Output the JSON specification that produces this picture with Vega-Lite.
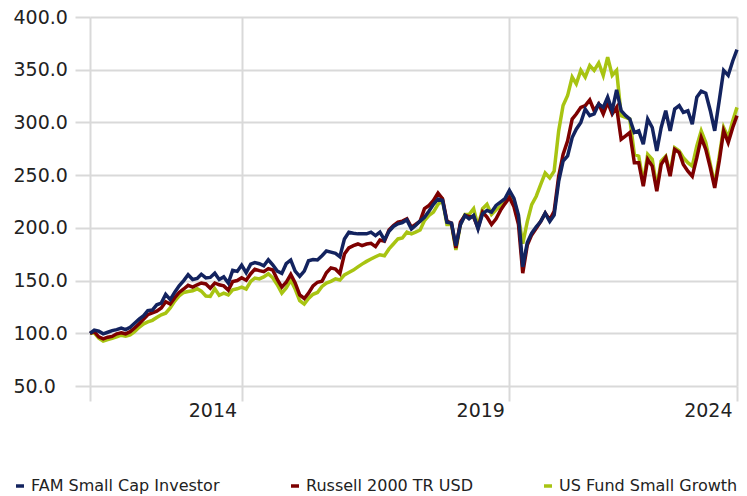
{
  "$schema": "https://vega.github.io/schema/vega-lite/v6.json",
  "width": 647,
  "height": 369,
  "autosize": "none",
  "padding": {"left": 90, "top": 17, "right": 10, "bottom": 110},
  "background": "white",
  "config": {
    "font": "DejaVu Sans",
    "view": {"stroke": null}
  },
  "data": {
    "values": [
      {"date":"2012-02-01","series":"US Fund Small Growth","value":100},
      {"date":"2012-03-01","series":"US Fund Small Growth","value":100.5},
      {"date":"2012-04-01","series":"US Fund Small Growth","value":95.3},
      {"date":"2012-05-01","series":"US Fund Small Growth","value":92.7},
      {"date":"2012-06-01","series":"US Fund Small Growth","value":94},
      {"date":"2012-07-01","series":"US Fund Small Growth","value":95.3},
      {"date":"2012-08-01","series":"US Fund Small Growth","value":96.6},
      {"date":"2012-09-01","series":"US Fund Small Growth","value":98.2},
      {"date":"2012-10-01","series":"US Fund Small Growth","value":97.2},
      {"date":"2012-11-01","series":"US Fund Small Growth","value":98.5},
      {"date":"2012-12-01","series":"US Fund Small Growth","value":101.5},
      {"date":"2013-01-01","series":"US Fund Small Growth","value":105.7},
      {"date":"2013-02-01","series":"US Fund Small Growth","value":109},
      {"date":"2013-03-01","series":"US Fund Small Growth","value":110.8},
      {"date":"2013-04-01","series":"US Fund Small Growth","value":112.3},
      {"date":"2013-05-01","series":"US Fund Small Growth","value":115},
      {"date":"2013-06-01","series":"US Fund Small Growth","value":117.6},
      {"date":"2013-07-01","series":"US Fund Small Growth","value":119},
      {"date":"2013-08-01","series":"US Fund Small Growth","value":124},
      {"date":"2013-09-01","series":"US Fund Small Growth","value":130.6},
      {"date":"2013-10-01","series":"US Fund Small Growth","value":135.4},
      {"date":"2013-11-01","series":"US Fund Small Growth","value":138.7},
      {"date":"2013-12-01","series":"US Fund Small Growth","value":139.6},
      {"date":"2014-01-01","series":"US Fund Small Growth","value":140.3},
      {"date":"2014-02-01","series":"US Fund Small Growth","value":142.2},
      {"date":"2014-03-01","series":"US Fund Small Growth","value":140},
      {"date":"2014-04-01","series":"US Fund Small Growth","value":135.4},
      {"date":"2014-05-01","series":"US Fund Small Growth","value":135},
      {"date":"2014-06-01","series":"US Fund Small Growth","value":142.2},
      {"date":"2014-07-01","series":"US Fund Small Growth","value":136},
      {"date":"2014-08-01","series":"US Fund Small Growth","value":138},
      {"date":"2014-09-01","series":"US Fund Small Growth","value":136.4},
      {"date":"2014-10-01","series":"US Fund Small Growth","value":141.3},
      {"date":"2014-11-01","series":"US Fund Small Growth","value":142.2},
      {"date":"2014-12-01","series":"US Fund Small Growth","value":143.8},
      {"date":"2015-01-01","series":"US Fund Small Growth","value":142},
      {"date":"2015-02-01","series":"US Fund Small Growth","value":149.3},
      {"date":"2015-03-01","series":"US Fund Small Growth","value":152.3},
      {"date":"2015-04-01","series":"US Fund Small Growth","value":151.6},
      {"date":"2015-05-01","series":"US Fund Small Growth","value":153.5},
      {"date":"2015-06-01","series":"US Fund Small Growth","value":156.5},
      {"date":"2015-07-01","series":"US Fund Small Growth","value":152.6},
      {"date":"2015-08-01","series":"US Fund Small Growth","value":146},
      {"date":"2015-09-01","series":"US Fund Small Growth","value":138},
      {"date":"2015-10-01","series":"US Fund Small Growth","value":143},
      {"date":"2015-11-01","series":"US Fund Small Growth","value":150.3},
      {"date":"2015-12-01","series":"US Fund Small Growth","value":142},
      {"date":"2016-01-01","series":"US Fund Small Growth","value":131},
      {"date":"2016-02-01","series":"US Fund Small Growth","value":127.7},
      {"date":"2016-03-01","series":"US Fund Small Growth","value":133},
      {"date":"2016-04-01","series":"US Fund Small Growth","value":137},
      {"date":"2016-05-01","series":"US Fund Small Growth","value":138.7},
      {"date":"2016-06-01","series":"US Fund Small Growth","value":144.5},
      {"date":"2016-07-01","series":"US Fund Small Growth","value":147.7},
      {"date":"2016-08-01","series":"US Fund Small Growth","value":149.3},
      {"date":"2016-09-01","series":"US Fund Small Growth","value":151.6},
      {"date":"2016-10-01","series":"US Fund Small Growth","value":150.5},
      {"date":"2016-11-01","series":"US Fund Small Growth","value":155.4},
      {"date":"2016-12-01","series":"US Fund Small Growth","value":157.6},
      {"date":"2017-01-01","series":"US Fund Small Growth","value":159.9},
      {"date":"2017-02-01","series":"US Fund Small Growth","value":163},
      {"date":"2017-03-01","series":"US Fund Small Growth","value":165.6},
      {"date":"2017-04-01","series":"US Fund Small Growth","value":168.2},
      {"date":"2017-05-01","series":"US Fund Small Growth","value":170.4},
      {"date":"2017-06-01","series":"US Fund Small Growth","value":172.6},
      {"date":"2017-07-01","series":"US Fund Small Growth","value":174.5},
      {"date":"2017-08-01","series":"US Fund Small Growth","value":173.6},
      {"date":"2017-09-01","series":"US Fund Small Growth","value":180},
      {"date":"2017-10-01","series":"US Fund Small Growth","value":184.7},
      {"date":"2017-11-01","series":"US Fund Small Growth","value":189.5},
      {"date":"2017-12-01","series":"US Fund Small Growth","value":190.4},
      {"date":"2018-01-01","series":"US Fund Small Growth","value":195.9},
      {"date":"2018-02-01","series":"US Fund Small Growth","value":194.3},
      {"date":"2018-03-01","series":"US Fund Small Growth","value":195.9},
      {"date":"2018-04-01","series":"US Fund Small Growth","value":198},
      {"date":"2018-05-01","series":"US Fund Small Growth","value":207},
      {"date":"2018-06-01","series":"US Fund Small Growth","value":211.8},
      {"date":"2018-07-01","series":"US Fund Small Growth","value":215},
      {"date":"2018-08-01","series":"US Fund Small Growth","value":222.3},
      {"date":"2018-09-01","series":"US Fund Small Growth","value":226.1},
      {"date":"2018-10-01","series":"US Fund Small Growth","value":203.2},
      {"date":"2018-11-01","series":"US Fund Small Growth","value":203.2},
      {"date":"2018-12-01","series":"US Fund Small Growth","value":179},
      {"date":"2019-01-01","series":"US Fund Small Growth","value":203.2},
      {"date":"2019-02-01","series":"US Fund Small Growth","value":212.7},
      {"date":"2019-03-01","series":"US Fund Small Growth","value":212.7},
      {"date":"2019-04-01","series":"US Fund Small Growth","value":218.2},
      {"date":"2019-05-01","series":"US Fund Small Growth","value":201.3},
      {"date":"2019-06-01","series":"US Fund Small Growth","value":218.2},
      {"date":"2019-07-01","series":"US Fund Small Growth","value":222.3},
      {"date":"2019-08-01","series":"US Fund Small Growth","value":212.7},
      {"date":"2019-09-01","series":"US Fund Small Growth","value":217.2},
      {"date":"2019-10-01","series":"US Fund Small Growth","value":220.4},
      {"date":"2019-11-01","series":"US Fund Small Growth","value":226.1},
      {"date":"2019-12-01","series":"US Fund Small Growth","value":231},
      {"date":"2020-01-01","series":"US Fund Small Growth","value":226},
      {"date":"2020-02-01","series":"US Fund Small Growth","value":210},
      {"date":"2020-03-01","series":"US Fund Small Growth","value":185},
      {"date":"2020-04-01","series":"US Fund Small Growth","value":206},
      {"date":"2020-05-01","series":"US Fund Small Growth","value":222},
      {"date":"2020-06-01","series":"US Fund Small Growth","value":230},
      {"date":"2020-07-01","series":"US Fund Small Growth","value":241},
      {"date":"2020-08-01","series":"US Fund Small Growth","value":252},
      {"date":"2020-09-01","series":"US Fund Small Growth","value":247.4},
      {"date":"2020-10-01","series":"US Fund Small Growth","value":253.8},
      {"date":"2020-11-01","series":"US Fund Small Growth","value":292},
      {"date":"2020-12-01","series":"US Fund Small Growth","value":316},
      {"date":"2021-01-01","series":"US Fund Small Growth","value":325.5},
      {"date":"2021-02-01","series":"US Fund Small Growth","value":343},
      {"date":"2021-03-01","series":"US Fund Small Growth","value":336.6},
      {"date":"2021-04-01","series":"US Fund Small Growth","value":349.4},
      {"date":"2021-05-01","series":"US Fund Small Growth","value":343},
      {"date":"2021-06-01","series":"US Fund Small Growth","value":354},
      {"date":"2021-07-01","series":"US Fund Small Growth","value":349.4},
      {"date":"2021-08-01","series":"US Fund Small Growth","value":356.4},
      {"date":"2021-09-01","series":"US Fund Small Growth","value":344.6},
      {"date":"2021-10-01","series":"US Fund Small Growth","value":362},
      {"date":"2021-11-01","series":"US Fund Small Growth","value":344.6},
      {"date":"2021-12-01","series":"US Fund Small Growth","value":349.4},
      {"date":"2022-01-01","series":"US Fund Small Growth","value":306.4},
      {"date":"2022-02-01","series":"US Fund Small Growth","value":304.8},
      {"date":"2022-03-01","series":"US Fund Small Growth","value":303.2},
      {"date":"2022-04-01","series":"US Fund Small Growth","value":269.7},
      {"date":"2022-05-01","series":"US Fund Small Growth","value":268},
      {"date":"2022-06-01","series":"US Fund Small Growth","value":242.7},
      {"date":"2022-07-01","series":"US Fund Small Growth","value":269.7},
      {"date":"2022-08-01","series":"US Fund Small Growth","value":265},
      {"date":"2022-09-01","series":"US Fund Small Growth","value":238},
      {"date":"2022-10-01","series":"US Fund Small Growth","value":263.4},
      {"date":"2022-11-01","series":"US Fund Small Growth","value":268},
      {"date":"2022-12-01","series":"US Fund Small Growth","value":252.2},
      {"date":"2023-01-01","series":"US Fund Small Growth","value":276},
      {"date":"2023-02-01","series":"US Fund Small Growth","value":273},
      {"date":"2023-03-01","series":"US Fund Small Growth","value":266.6},
      {"date":"2023-04-01","series":"US Fund Small Growth","value":261.8},
      {"date":"2023-05-01","series":"US Fund Small Growth","value":258.6},
      {"date":"2023-06-01","series":"US Fund Small Growth","value":277.7},
      {"date":"2023-07-01","series":"US Fund Small Growth","value":292},
      {"date":"2023-08-01","series":"US Fund Small Growth","value":281},
      {"date":"2023-09-01","series":"US Fund Small Growth","value":260.2},
      {"date":"2023-10-01","series":"US Fund Small Growth","value":241},
      {"date":"2023-11-01","series":"US Fund Small Growth","value":268},
      {"date":"2023-12-01","series":"US Fund Small Growth","value":295.2},
      {"date":"2024-01-01","series":"US Fund Small Growth","value":285.7},
      {"date":"2024-02-01","series":"US Fund Small Growth","value":301.6},
      {"date":"2024-03-01","series":"US Fund Small Growth","value":314.3},

      {"date":"2012-02-01","series":"Russell 2000 TR USD","value":100},
      {"date":"2012-03-01","series":"Russell 2000 TR USD","value":101.5},
      {"date":"2012-04-01","series":"Russell 2000 TR USD","value":96.6},
      {"date":"2012-05-01","series":"Russell 2000 TR USD","value":94.7},
      {"date":"2012-06-01","series":"Russell 2000 TR USD","value":96.3},
      {"date":"2012-07-01","series":"Russell 2000 TR USD","value":97},
      {"date":"2012-08-01","series":"Russell 2000 TR USD","value":99.5},
      {"date":"2012-09-01","series":"Russell 2000 TR USD","value":100.5},
      {"date":"2012-10-01","series":"Russell 2000 TR USD","value":99.5},
      {"date":"2012-11-01","series":"Russell 2000 TR USD","value":101.5},
      {"date":"2012-12-01","series":"Russell 2000 TR USD","value":105},
      {"date":"2013-01-01","series":"Russell 2000 TR USD","value":109},
      {"date":"2013-02-01","series":"Russell 2000 TR USD","value":113.4},
      {"date":"2013-03-01","series":"Russell 2000 TR USD","value":117.6},
      {"date":"2013-04-01","series":"Russell 2000 TR USD","value":119.3},
      {"date":"2013-05-01","series":"Russell 2000 TR USD","value":121},
      {"date":"2013-06-01","series":"Russell 2000 TR USD","value":124},
      {"date":"2013-07-01","series":"Russell 2000 TR USD","value":130},
      {"date":"2013-08-01","series":"Russell 2000 TR USD","value":127.7},
      {"date":"2013-09-01","series":"Russell 2000 TR USD","value":133.8},
      {"date":"2013-10-01","series":"Russell 2000 TR USD","value":138.7},
      {"date":"2013-11-01","series":"Russell 2000 TR USD","value":142},
      {"date":"2013-12-01","series":"Russell 2000 TR USD","value":145.5},
      {"date":"2014-01-01","series":"Russell 2000 TR USD","value":143.8},
      {"date":"2014-02-01","series":"Russell 2000 TR USD","value":146},
      {"date":"2014-03-01","series":"Russell 2000 TR USD","value":147.7},
      {"date":"2014-04-01","series":"Russell 2000 TR USD","value":146.8},
      {"date":"2014-05-01","series":"Russell 2000 TR USD","value":142.8},
      {"date":"2014-06-01","series":"Russell 2000 TR USD","value":147.7},
      {"date":"2014-07-01","series":"Russell 2000 TR USD","value":146},
      {"date":"2014-08-01","series":"Russell 2000 TR USD","value":145},
      {"date":"2014-09-01","series":"Russell 2000 TR USD","value":141},
      {"date":"2014-10-01","series":"Russell 2000 TR USD","value":149},
      {"date":"2014-11-01","series":"Russell 2000 TR USD","value":150},
      {"date":"2014-12-01","series":"Russell 2000 TR USD","value":152.6},
      {"date":"2015-01-01","series":"Russell 2000 TR USD","value":150.3},
      {"date":"2015-02-01","series":"Russell 2000 TR USD","value":156.5},
      {"date":"2015-03-01","series":"Russell 2000 TR USD","value":160.7},
      {"date":"2015-04-01","series":"Russell 2000 TR USD","value":159.4},
      {"date":"2015-05-01","series":"Russell 2000 TR USD","value":158.4},
      {"date":"2015-06-01","series":"Russell 2000 TR USD","value":161.3},
      {"date":"2015-07-01","series":"Russell 2000 TR USD","value":160},
      {"date":"2015-08-01","series":"Russell 2000 TR USD","value":151},
      {"date":"2015-09-01","series":"Russell 2000 TR USD","value":143.8},
      {"date":"2015-10-01","series":"Russell 2000 TR USD","value":148.4},
      {"date":"2015-11-01","series":"Russell 2000 TR USD","value":155.8},
      {"date":"2015-12-01","series":"Russell 2000 TR USD","value":147.7},
      {"date":"2016-01-01","series":"Russell 2000 TR USD","value":136.4},
      {"date":"2016-02-01","series":"Russell 2000 TR USD","value":133},
      {"date":"2016-03-01","series":"Russell 2000 TR USD","value":138},
      {"date":"2016-04-01","series":"Russell 2000 TR USD","value":145},
      {"date":"2016-05-01","series":"Russell 2000 TR USD","value":148.4},
      {"date":"2016-06-01","series":"Russell 2000 TR USD","value":149.3},
      {"date":"2016-07-01","series":"Russell 2000 TR USD","value":157.4},
      {"date":"2016-08-01","series":"Russell 2000 TR USD","value":162},
      {"date":"2016-09-01","series":"Russell 2000 TR USD","value":160.8},
      {"date":"2016-10-01","series":"Russell 2000 TR USD","value":156.7},
      {"date":"2016-11-01","series":"Russell 2000 TR USD","value":175.2},
      {"date":"2016-12-01","series":"Russell 2000 TR USD","value":180.9},
      {"date":"2017-01-01","series":"Russell 2000 TR USD","value":183.1},
      {"date":"2017-02-01","series":"Russell 2000 TR USD","value":184.7},
      {"date":"2017-03-01","series":"Russell 2000 TR USD","value":183.1},
      {"date":"2017-04-01","series":"Russell 2000 TR USD","value":184.7},
      {"date":"2017-05-01","series":"Russell 2000 TR USD","value":185.3},
      {"date":"2017-06-01","series":"Russell 2000 TR USD","value":182.2},
      {"date":"2017-07-01","series":"Russell 2000 TR USD","value":188.5},
      {"date":"2017-08-01","series":"Russell 2000 TR USD","value":187.3},
      {"date":"2017-09-01","series":"Russell 2000 TR USD","value":198},
      {"date":"2017-10-01","series":"Russell 2000 TR USD","value":202.2},
      {"date":"2017-11-01","series":"Russell 2000 TR USD","value":205.4},
      {"date":"2017-12-01","series":"Russell 2000 TR USD","value":206.4},
      {"date":"2018-01-01","series":"Russell 2000 TR USD","value":208.6},
      {"date":"2018-02-01","series":"Russell 2000 TR USD","value":200.6},
      {"date":"2018-03-01","series":"Russell 2000 TR USD","value":203.2},
      {"date":"2018-04-01","series":"Russell 2000 TR USD","value":206.4},
      {"date":"2018-05-01","series":"Russell 2000 TR USD","value":218.2},
      {"date":"2018-06-01","series":"Russell 2000 TR USD","value":221.3},
      {"date":"2018-07-01","series":"Russell 2000 TR USD","value":226.1},
      {"date":"2018-08-01","series":"Russell 2000 TR USD","value":233.1},
      {"date":"2018-09-01","series":"Russell 2000 TR USD","value":227.7},
      {"date":"2018-10-01","series":"Russell 2000 TR USD","value":206.4},
      {"date":"2018-11-01","series":"Russell 2000 TR USD","value":204.5},
      {"date":"2018-12-01","series":"Russell 2000 TR USD","value":180.9},
      {"date":"2019-01-01","series":"Russell 2000 TR USD","value":205.4},
      {"date":"2019-02-01","series":"Russell 2000 TR USD","value":211.8},
      {"date":"2019-03-01","series":"Russell 2000 TR USD","value":210.8},
      {"date":"2019-04-01","series":"Russell 2000 TR USD","value":210.2},
      {"date":"2019-05-01","series":"Russell 2000 TR USD","value":200},
      {"date":"2019-06-01","series":"Russell 2000 TR USD","value":215},
      {"date":"2019-07-01","series":"Russell 2000 TR USD","value":210.2},
      {"date":"2019-08-01","series":"Russell 2000 TR USD","value":203.2},
      {"date":"2019-09-01","series":"Russell 2000 TR USD","value":208.6},
      {"date":"2019-10-01","series":"Russell 2000 TR USD","value":216.6},
      {"date":"2019-11-01","series":"Russell 2000 TR USD","value":223},
      {"date":"2019-12-01","series":"Russell 2000 TR USD","value":228.8},
      {"date":"2020-01-01","series":"Russell 2000 TR USD","value":220},
      {"date":"2020-02-01","series":"Russell 2000 TR USD","value":203},
      {"date":"2020-03-01","series":"Russell 2000 TR USD","value":157},
      {"date":"2020-04-01","series":"Russell 2000 TR USD","value":183.7},
      {"date":"2020-05-01","series":"Russell 2000 TR USD","value":193.3},
      {"date":"2020-06-01","series":"Russell 2000 TR USD","value":199.7},
      {"date":"2020-07-01","series":"Russell 2000 TR USD","value":206},
      {"date":"2020-08-01","series":"Russell 2000 TR USD","value":214},
      {"date":"2020-09-01","series":"Russell 2000 TR USD","value":207.6},
      {"date":"2020-10-01","series":"Russell 2000 TR USD","value":215.6},
      {"date":"2020-11-01","series":"Russell 2000 TR USD","value":249},
      {"date":"2020-12-01","series":"Russell 2000 TR USD","value":269.7},
      {"date":"2021-01-01","series":"Russell 2000 TR USD","value":282.5},
      {"date":"2021-02-01","series":"Russell 2000 TR USD","value":303.2},
      {"date":"2021-03-01","series":"Russell 2000 TR USD","value":308},
      {"date":"2021-04-01","series":"Russell 2000 TR USD","value":314.3},
      {"date":"2021-05-01","series":"Russell 2000 TR USD","value":315.9},
      {"date":"2021-06-01","series":"Russell 2000 TR USD","value":321.3},
      {"date":"2021-07-01","series":"Russell 2000 TR USD","value":311.1},
      {"date":"2021-08-01","series":"Russell 2000 TR USD","value":317.5},
      {"date":"2021-09-01","series":"Russell 2000 TR USD","value":308},
      {"date":"2021-10-01","series":"Russell 2000 TR USD","value":319},
      {"date":"2021-11-01","series":"Russell 2000 TR USD","value":308},
      {"date":"2021-12-01","series":"Russell 2000 TR USD","value":314.3},
      {"date":"2022-01-01","series":"Russell 2000 TR USD","value":284},
      {"date":"2022-02-01","series":"Russell 2000 TR USD","value":287.3},
      {"date":"2022-03-01","series":"Russell 2000 TR USD","value":290.4},
      {"date":"2022-04-01","series":"Russell 2000 TR USD","value":261.8},
      {"date":"2022-05-01","series":"Russell 2000 TR USD","value":261.8},
      {"date":"2022-06-01","series":"Russell 2000 TR USD","value":239.5},
      {"date":"2022-07-01","series":"Russell 2000 TR USD","value":265},
      {"date":"2022-08-01","series":"Russell 2000 TR USD","value":258.6},
      {"date":"2022-09-01","series":"Russell 2000 TR USD","value":234.7},
      {"date":"2022-10-01","series":"Russell 2000 TR USD","value":260.2},
      {"date":"2022-11-01","series":"Russell 2000 TR USD","value":266.6},
      {"date":"2022-12-01","series":"Russell 2000 TR USD","value":249},
      {"date":"2023-01-01","series":"Russell 2000 TR USD","value":274.5},
      {"date":"2023-02-01","series":"Russell 2000 TR USD","value":271.3},
      {"date":"2023-03-01","series":"Russell 2000 TR USD","value":260.2},
      {"date":"2023-04-01","series":"Russell 2000 TR USD","value":253.8},
      {"date":"2023-05-01","series":"Russell 2000 TR USD","value":249},
      {"date":"2023-06-01","series":"Russell 2000 TR USD","value":266.6},
      {"date":"2023-07-01","series":"Russell 2000 TR USD","value":285.7},
      {"date":"2023-08-01","series":"Russell 2000 TR USD","value":274.5},
      {"date":"2023-09-01","series":"Russell 2000 TR USD","value":257},
      {"date":"2023-10-01","series":"Russell 2000 TR USD","value":237.9},
      {"date":"2023-11-01","series":"Russell 2000 TR USD","value":263.4},
      {"date":"2023-12-01","series":"Russell 2000 TR USD","value":292},
      {"date":"2024-01-01","series":"Russell 2000 TR USD","value":280.9},
      {"date":"2024-02-01","series":"Russell 2000 TR USD","value":295.2},
      {"date":"2024-03-01","series":"Russell 2000 TR USD","value":306.4},

      {"date":"2012-02-01","series":"FAM Small Cap Investor","value":100},
      {"date":"2012-03-01","series":"FAM Small Cap Investor","value":103},
      {"date":"2012-04-01","series":"FAM Small Cap Investor","value":102},
      {"date":"2012-05-01","series":"FAM Small Cap Investor","value":99.5},
      {"date":"2012-06-01","series":"FAM Small Cap Investor","value":101},
      {"date":"2012-07-01","series":"FAM Small Cap Investor","value":102.5},
      {"date":"2012-08-01","series":"FAM Small Cap Investor","value":103.5},
      {"date":"2012-09-01","series":"FAM Small Cap Investor","value":105},
      {"date":"2012-10-01","series":"FAM Small Cap Investor","value":103.5},
      {"date":"2012-11-01","series":"FAM Small Cap Investor","value":105.7},
      {"date":"2012-12-01","series":"FAM Small Cap Investor","value":109.5},
      {"date":"2013-01-01","series":"FAM Small Cap Investor","value":113.4},
      {"date":"2013-02-01","series":"FAM Small Cap Investor","value":116.7},
      {"date":"2013-03-01","series":"FAM Small Cap Investor","value":121.5},
      {"date":"2013-04-01","series":"FAM Small Cap Investor","value":122},
      {"date":"2013-05-01","series":"FAM Small Cap Investor","value":127},
      {"date":"2013-06-01","series":"FAM Small Cap Investor","value":128.6},
      {"date":"2013-07-01","series":"FAM Small Cap Investor","value":137},
      {"date":"2013-08-01","series":"FAM Small Cap Investor","value":132},
      {"date":"2013-09-01","series":"FAM Small Cap Investor","value":139},
      {"date":"2013-10-01","series":"FAM Small Cap Investor","value":145},
      {"date":"2013-11-01","series":"FAM Small Cap Investor","value":150},
      {"date":"2013-12-01","series":"FAM Small Cap Investor","value":155.5},
      {"date":"2014-01-01","series":"FAM Small Cap Investor","value":151},
      {"date":"2014-02-01","series":"FAM Small Cap Investor","value":152},
      {"date":"2014-03-01","series":"FAM Small Cap Investor","value":156},
      {"date":"2014-04-01","series":"FAM Small Cap Investor","value":152.5},
      {"date":"2014-05-01","series":"FAM Small Cap Investor","value":153},
      {"date":"2014-06-01","series":"FAM Small Cap Investor","value":157},
      {"date":"2014-07-01","series":"FAM Small Cap Investor","value":151},
      {"date":"2014-08-01","series":"FAM Small Cap Investor","value":153.5},
      {"date":"2014-09-01","series":"FAM Small Cap Investor","value":147.7},
      {"date":"2014-10-01","series":"FAM Small Cap Investor","value":159.7},
      {"date":"2014-11-01","series":"FAM Small Cap Investor","value":158.7},
      {"date":"2014-12-01","series":"FAM Small Cap Investor","value":164.5},
      {"date":"2015-01-01","series":"FAM Small Cap Investor","value":157.4},
      {"date":"2015-02-01","series":"FAM Small Cap Investor","value":165.5},
      {"date":"2015-03-01","series":"FAM Small Cap Investor","value":167},
      {"date":"2015-04-01","series":"FAM Small Cap Investor","value":166},
      {"date":"2015-05-01","series":"FAM Small Cap Investor","value":164},
      {"date":"2015-06-01","series":"FAM Small Cap Investor","value":169.7},
      {"date":"2015-07-01","series":"FAM Small Cap Investor","value":165},
      {"date":"2015-08-01","series":"FAM Small Cap Investor","value":159},
      {"date":"2015-09-01","series":"FAM Small Cap Investor","value":156.8},
      {"date":"2015-10-01","series":"FAM Small Cap Investor","value":166},
      {"date":"2015-11-01","series":"FAM Small Cap Investor","value":169.5},
      {"date":"2015-12-01","series":"FAM Small Cap Investor","value":159},
      {"date":"2016-01-01","series":"FAM Small Cap Investor","value":154},
      {"date":"2016-02-01","series":"FAM Small Cap Investor","value":159},
      {"date":"2016-03-01","series":"FAM Small Cap Investor","value":168.8},
      {"date":"2016-04-01","series":"FAM Small Cap Investor","value":170},
      {"date":"2016-05-01","series":"FAM Small Cap Investor","value":169.5},
      {"date":"2016-06-01","series":"FAM Small Cap Investor","value":173.6},
      {"date":"2016-07-01","series":"FAM Small Cap Investor","value":178},
      {"date":"2016-08-01","series":"FAM Small Cap Investor","value":177},
      {"date":"2016-09-01","series":"FAM Small Cap Investor","value":175.8},
      {"date":"2016-10-01","series":"FAM Small Cap Investor","value":172.6},
      {"date":"2016-11-01","series":"FAM Small Cap Investor","value":189.5},
      {"date":"2016-12-01","series":"FAM Small Cap Investor","value":195.9},
      {"date":"2017-01-01","series":"FAM Small Cap Investor","value":194.9},
      {"date":"2017-02-01","series":"FAM Small Cap Investor","value":194.3},
      {"date":"2017-03-01","series":"FAM Small Cap Investor","value":194.3},
      {"date":"2017-04-01","series":"FAM Small Cap Investor","value":194.3},
      {"date":"2017-05-01","series":"FAM Small Cap Investor","value":195.9},
      {"date":"2017-06-01","series":"FAM Small Cap Investor","value":192.7},
      {"date":"2017-07-01","series":"FAM Small Cap Investor","value":195.9},
      {"date":"2017-08-01","series":"FAM Small Cap Investor","value":188.5},
      {"date":"2017-09-01","series":"FAM Small Cap Investor","value":196.8},
      {"date":"2017-10-01","series":"FAM Small Cap Investor","value":201.3},
      {"date":"2017-11-01","series":"FAM Small Cap Investor","value":203.8},
      {"date":"2017-12-01","series":"FAM Small Cap Investor","value":205},
      {"date":"2018-01-01","series":"FAM Small Cap Investor","value":207.6},
      {"date":"2018-02-01","series":"FAM Small Cap Investor","value":199},
      {"date":"2018-03-01","series":"FAM Small Cap Investor","value":202.2},
      {"date":"2018-04-01","series":"FAM Small Cap Investor","value":206.4},
      {"date":"2018-05-01","series":"FAM Small Cap Investor","value":210},
      {"date":"2018-06-01","series":"FAM Small Cap Investor","value":216},
      {"date":"2018-07-01","series":"FAM Small Cap Investor","value":222.3},
      {"date":"2018-08-01","series":"FAM Small Cap Investor","value":227.4},
      {"date":"2018-09-01","series":"FAM Small Cap Investor","value":226},
      {"date":"2018-10-01","series":"FAM Small Cap Investor","value":205.4},
      {"date":"2018-11-01","series":"FAM Small Cap Investor","value":204.5},
      {"date":"2018-12-01","series":"FAM Small Cap Investor","value":183},
      {"date":"2019-01-01","series":"FAM Small Cap Investor","value":203},
      {"date":"2019-02-01","series":"FAM Small Cap Investor","value":211.8},
      {"date":"2019-03-01","series":"FAM Small Cap Investor","value":208.6},
      {"date":"2019-04-01","series":"FAM Small Cap Investor","value":211.8},
      {"date":"2019-05-01","series":"FAM Small Cap Investor","value":199},
      {"date":"2019-06-01","series":"FAM Small Cap Investor","value":213.4},
      {"date":"2019-07-01","series":"FAM Small Cap Investor","value":216.6},
      {"date":"2019-08-01","series":"FAM Small Cap Investor","value":215},
      {"date":"2019-09-01","series":"FAM Small Cap Investor","value":221.3},
      {"date":"2019-10-01","series":"FAM Small Cap Investor","value":224.5},
      {"date":"2019-11-01","series":"FAM Small Cap Investor","value":227.7},
      {"date":"2019-12-01","series":"FAM Small Cap Investor","value":235.5},
      {"date":"2020-01-01","series":"FAM Small Cap Investor","value":228},
      {"date":"2020-02-01","series":"FAM Small Cap Investor","value":212},
      {"date":"2020-03-01","series":"FAM Small Cap Investor","value":163},
      {"date":"2020-04-01","series":"FAM Small Cap Investor","value":186},
      {"date":"2020-05-01","series":"FAM Small Cap Investor","value":195},
      {"date":"2020-06-01","series":"FAM Small Cap Investor","value":201},
      {"date":"2020-07-01","series":"FAM Small Cap Investor","value":206},
      {"date":"2020-08-01","series":"FAM Small Cap Investor","value":214},
      {"date":"2020-09-01","series":"FAM Small Cap Investor","value":206},
      {"date":"2020-10-01","series":"FAM Small Cap Investor","value":212},
      {"date":"2020-11-01","series":"FAM Small Cap Investor","value":244},
      {"date":"2020-12-01","series":"FAM Small Cap Investor","value":263.4},
      {"date":"2021-01-01","series":"FAM Small Cap Investor","value":268.2},
      {"date":"2021-02-01","series":"FAM Small Cap Investor","value":285.7},
      {"date":"2021-03-01","series":"FAM Small Cap Investor","value":293.6},
      {"date":"2021-04-01","series":"FAM Small Cap Investor","value":300},
      {"date":"2021-05-01","series":"FAM Small Cap Investor","value":312.7},
      {"date":"2021-06-01","series":"FAM Small Cap Investor","value":306.4},
      {"date":"2021-07-01","series":"FAM Small Cap Investor","value":308},
      {"date":"2021-08-01","series":"FAM Small Cap Investor","value":317.5},
      {"date":"2021-09-01","series":"FAM Small Cap Investor","value":314.3},
      {"date":"2021-10-01","series":"FAM Small Cap Investor","value":323.9},
      {"date":"2021-11-01","series":"FAM Small Cap Investor","value":311.1},
      {"date":"2021-12-01","series":"FAM Small Cap Investor","value":330.9},
      {"date":"2022-01-01","series":"FAM Small Cap Investor","value":311.1},
      {"date":"2022-02-01","series":"FAM Small Cap Investor","value":306.4},
      {"date":"2022-03-01","series":"FAM Small Cap Investor","value":303.2},
      {"date":"2022-04-01","series":"FAM Small Cap Investor","value":290.4},
      {"date":"2022-05-01","series":"FAM Small Cap Investor","value":292},
      {"date":"2022-06-01","series":"FAM Small Cap Investor","value":279.3},
      {"date":"2022-07-01","series":"FAM Small Cap Investor","value":303.2},
      {"date":"2022-08-01","series":"FAM Small Cap Investor","value":295.2},
      {"date":"2022-09-01","series":"FAM Small Cap Investor","value":272.9},
      {"date":"2022-10-01","series":"FAM Small Cap Investor","value":295.2},
      {"date":"2022-11-01","series":"FAM Small Cap Investor","value":311.1},
      {"date":"2022-12-01","series":"FAM Small Cap Investor","value":292},
      {"date":"2023-01-01","series":"FAM Small Cap Investor","value":312.7},
      {"date":"2023-02-01","series":"FAM Small Cap Investor","value":315.9},
      {"date":"2023-03-01","series":"FAM Small Cap Investor","value":309.6},
      {"date":"2023-04-01","series":"FAM Small Cap Investor","value":311.1},
      {"date":"2023-05-01","series":"FAM Small Cap Investor","value":298.4},
      {"date":"2023-06-01","series":"FAM Small Cap Investor","value":323.9},
      {"date":"2023-07-01","series":"FAM Small Cap Investor","value":329.6},
      {"date":"2023-08-01","series":"FAM Small Cap Investor","value":327.7},
      {"date":"2023-09-01","series":"FAM Small Cap Investor","value":311.1},
      {"date":"2023-10-01","series":"FAM Small Cap Investor","value":292},
      {"date":"2023-11-01","series":"FAM Small Cap Investor","value":320.7},
      {"date":"2023-12-01","series":"FAM Small Cap Investor","value":349.4},
      {"date":"2024-01-01","series":"FAM Small Cap Investor","value":344.6},
      {"date":"2024-02-01","series":"FAM Small Cap Investor","value":358.3},
      {"date":"2024-03-01","series":"FAM Small Cap Investor","value":369.1}
    ]
  },
  "mark": {"type": "line", "strokeWidth": 3.5, "clip": false},
  "encoding": {
    "x": {
      "field": "date",
      "type": "temporal",
      "scale": {"type": "utc", "nice": false},
      "axis": {
        "title": null,
        "values": [
          {"year": 2012, "month": 2, "date": 1, "utc": true},
          {"year": 2014, "month": 12, "date": 1, "utc": true},
          {"year": 2019, "month": 12, "date": 1, "utc": true},
          {"year": 2024, "month": 3, "date": 1, "utc": true}
        ],
        "labelExpr": "utcyear(datum.value) == 2012 ? '' : utcFormat(datum.value, '%Y')",
        "grid": true,
        "gridColor": "#d9d9d9",
        "gridWidth": 2,
        "domain": false,
        "ticks": true,
        "tickColor": "#d9d9d9",
        "tickWidth": 2,
        "tickSize": 15,
        "labelAlign": "right",
        "labelBaseline": "top",
        "labelOffset": -5,
        "labelPadding": 0,
        "labelFlush": false,
        "labelOverlap": false,
        "labelFontSize": 19,
        "labelColor": "#222222"
      }
    },
    "y": {
      "field": "value",
      "type": "quantitative",
      "scale": {"domain": [50, 400], "nice": false, "zero": false},
      "axis": {
        "title": null,
        "values": [50, 100, 150, 200, 250, 300, 350, 400],
        "format": ".1f",
        "grid": true,
        "gridColor": "#d9d9d9",
        "gridWidth": 2,
        "domain": false,
        "tickColor": "#d9d9d9",
        "tickWidth": 2,
        "tickSize": 15,
        "labelAlign": "left",
        "labelPadding": 62,
        "labelFlush": false,
        "labelOverlap": false,
        "labelFontSize": 19,
        "labelColor": "#222222"
      }
    },
    "color": {
      "field": "series",
      "type": "nominal",
      "scale": {
        "domain": ["FAM Small Cap Investor", "Russell 2000 TR USD", "US Fund Small Growth"],
        "range": ["#13235f", "#7d0000", "#a8c412"]
      },
      "legend": {
        "title": null,
        "orient": "none",
        "legendX": -78,
        "legendY": 461,
        "direction": "horizontal",
        "columns": 3,
        "gridAlign": "each",
        "columnPadding": 64,
        "padding": 0,
        "symbolType": "stroke",
        "symbolSize": 64,
        "symbolStrokeWidth": 3.5,
        "labelOffset": 3,
        "labelFontSize": 16,
        "labelColor": "#222222",
        "labelLimit": 400
      }
    }
  }
}
